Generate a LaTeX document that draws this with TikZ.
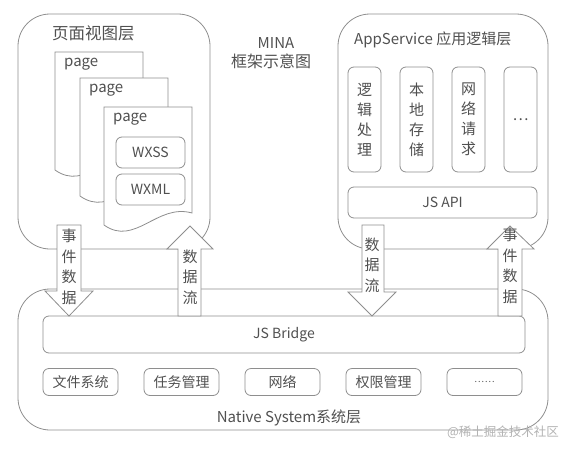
\documentclass[tikz,border=0pt]{standalone}
\usepackage{fontspec}
\setmainfont{Noto Sans CJK SC}
\usetikzlibrary{positioning}
\definecolor{edge}{HTML}{8E8E8E}
\definecolor{ink}{HTML}{505050}
\newcommand{\smalldots}{{\fontsize{9}{10}\selectfont .\kern1pt.\kern1pt.\kern1pt.\kern1pt.\kern1pt.}}
\tikzset{frame/.style = {draw=edge, rounded corners=32, line width=0.8}}
\tikzset{cell/.style = {draw=edge, rounded corners=6, line width=0.8, text=ink, inner sep=0, align=center}}
\tikzset{sheet/.style = {draw=edge, fill=white, line width=0.8}}
\tikzset{flow/.style = {draw=edge, fill=white, line width=0.8, line join=miter}}
\tikzset{lbl/.style = {text=ink, inner sep=0, align=center, font=\fontsize{15}{20.5}\selectfont}}
\begin{document}
\begin{tikzpicture}[x=1pt, y=-1pt]
    \useasboundingbox (0, 0) rectangle (570, 450);

    % the three layers
    \draw[frame] (18, 14) rectangle (210, 249);
    \draw[frame] (338, 14) rectangle (548, 249);
    \draw[frame] (18, 289) rectangle (548, 430);

    \node[lbl, anchor=west, font=\fontsize{16.5}{20}\selectfont] (viewtitle) at (52, 33) {页面视图层};
    \node[lbl, anchor=west] (apptitle) at (354, 40) {AppService 应用逻辑层};
    \node[lbl] (mina) at (276, 43) {MINA};
    \node[lbl, font=\fontsize{16}{20}\selectfont] (minasub) at (271, 61) {框架示意图};
    \node[lbl] (nativetitle) at (289, 418) {Native System系统层};

    % pages
    \foreach \x/\y [count=\i] in {55/52, 80/78, 104/107} {
        \draw[sheet] (\x, \y) -- (\x, \y+118) .. controls (\x+31, \y+140) and (\x+53, \y+96) .. (\x+88, \y+106) -- (\x+88, \y) -- cycle;
        \node[lbl, anchor=west] (page\i) at (\x+9, \y+12) {page};
    }
    \node[cell, minimum width=69, minimum height=31, font=\fontsize{14}{17}\selectfont] (wxss) at (150.5, 152.5) {WXSS};
    \node[cell, minimum width=69, minimum height=31, font=\fontsize{14}{17}\selectfont] (wxml) at (150.5, 189.5) {WXML};

    % logic layer
    \foreach \x/\t [count=\i] in {348/{逻\\辑\\处\\理}, 400/{本\\地\\存\\储}, 452/{网\\络\\请\\求}, 504/{\ldots}} {
        \node[cell, minimum width=33, minimum height=105, font=\fontsize{15}{20}\selectfont] (part\i) at (\x+16.5, 119.5) {\t};
    }
    \node[cell, minimum width=189, minimum height=31, font=\fontsize{14}{17}\selectfont] (jsapi) at (442.5, 202.5) {JS API};

    % native layer
    \node[cell, minimum width=482, minimum height=37, font=\fontsize{14}{17}\selectfont] (bridge) at (284, 334.5) {JS Bridge};
    \foreach \t [count=\i] in {文件系统, 任务管理, 网络, 权限管理, \smalldots} {
        \node[cell, minimum width=75, minimum height=27, font=\fontsize{14}{17}\selectfont] (sys\i) at (80.5+101*\i-101, 382) {\t};
    }

    % data arrows
    \draw[flow] (57, 225) -- (81, 225) -- (81, 291) -- (93, 291) -- (69, 316) -- (45, 291) -- (57, 291) -- cycle;
    \draw[flow] (178, 316) -- (178, 249) -- (167, 249) -- (190, 226) -- (213, 249) -- (201, 249) -- (201, 316) -- cycle;
    \draw[flow] (362, 225) -- (384, 225) -- (384, 292) -- (396, 292) -- (372, 316) -- (348, 292) -- (362, 292) -- cycle;
    \draw[flow] (498, 316) -- (498, 249) -- (487, 249) -- (510, 226) -- (534, 249) -- (522, 249) -- (522, 316) -- cycle;
    \node[lbl] (evleft) at (69, 267) {事\\件\\数\\据};
    \node[lbl] (dataleft) at (190, 277) {数\\据\\流};
    \node[lbl] (dataright) at (372, 265) {数\\据\\流};
    \node[lbl] (evright) at (510, 266) {事\\件\\数\\据};

    \node[text=black!30, inner sep=0, font=\fontsize{12.5}{15}\selectfont] (mark) at (503, 432) {@稀土掘金技术社区};
\end{tikzpicture}
\end{document}
